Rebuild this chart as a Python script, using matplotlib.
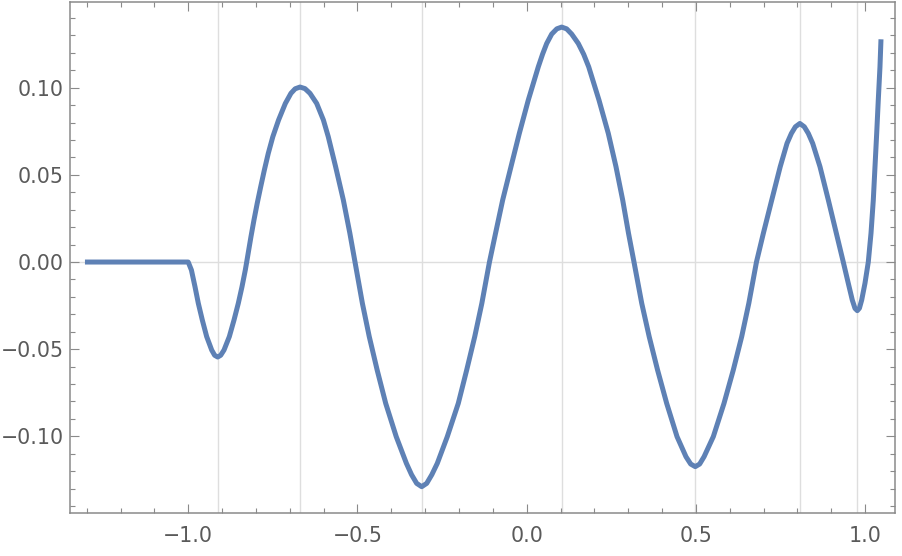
import matplotlib
matplotlib.use("Agg")
import matplotlib.pyplot as plt
from matplotlib.ticker import MultipleLocator, FixedLocator, FixedFormatter

# curve samples
x_vals = [-1.305, -1.000,
          -0.9905, -0.9799, -0.9701, -0.9583, -0.9454, -0.9306, -0.9219, -0.9129,
          -0.9040, -0.8942, -0.8785, -0.8647, -0.8520, -0.8411, -0.8313, -0.8272,
          -0.8146, -0.8057, -0.7961, -0.7858, -0.7750, -0.7635, -0.7500, -0.7330, -0.7130, -0.6965, -0.6840, -0.6697,
          -0.6550, -0.6402, -0.6204, -0.6006, -0.5862, -0.5645, -0.5417, -0.5224, -0.5072,
          -0.4854, -0.4651, -0.4417, -0.4165, -0.3854, -0.3554, -0.3402, -0.3250, -0.3102,
          -0.2954, -0.2802, -0.2641, -0.2346, -0.2021, -0.1773, -0.1535, -0.1325, -0.1100,
          -0.0920, -0.0709, -0.0464, -0.0218, 0.0047, 0.0343, 0.0470, 0.0591, 0.0739, 0.0890, 0.1034,
          0.1180, 0.1329, 0.1524, 0.1684, 0.1832, 0.2136, 0.2411, 0.2638, 0.2836, 0.3008, 0.3170,
          0.3399, 0.3619, 0.3867, 0.4136, 0.4442, 0.4706, 0.4845, 0.4980,
          0.5110, 0.5240, 0.5513, 0.5829, 0.6103, 0.6352, 0.6562, 0.6788,
          0.6992, 0.7240, 0.7490, 0.7691, 0.7820, 0.7938, 0.8070,
          0.8202, 0.8320, 0.8449, 0.8665, 0.8911, 0.9148, 0.9353,
          0.9501, 0.9619, 0.9699, 0.9767,
          0.9830, 0.9897, 0.9994, 1.0092, 1.0172, 1.0240, 1.0290, 1.0340, 1.0387, 1.0437, 1.0467]
y_vals = [0.0, 0.0,
          -0.0046, -0.0142, -0.0237, -0.0333, -0.0428, -0.0505, -0.0535, -0.0545,
          -0.0535, -0.0505, -0.0428, -0.0333, -0.0237, -0.0142, -0.0046, 0.0,
          0.0145, 0.0241, 0.0337, 0.0432, 0.0528, 0.0623, 0.0719, 0.0815, 0.0910, 0.0968, 0.0994, 0.1004,
          0.0995, 0.0968, 0.0910, 0.0815, 0.0719, 0.0547, 0.0356, 0.0165, 0.0,
          -0.0237, -0.0428, -0.0620, -0.0811, -0.1002, -0.1155, -0.1220, -0.1270, -0.1289,
          -0.1270, -0.1220, -0.1155, -0.1002, -0.0811, -0.0620, -0.0428, -0.0237, 0.0,
          0.0165, 0.0356, 0.0547, 0.0738, 0.0929, 0.1120, 0.1193, 0.1254, 0.1308, 0.1338, 0.1348,
          0.1338, 0.1308, 0.1254, 0.1192, 0.1120, 0.0929, 0.0738, 0.0547, 0.0356, 0.0165, 0.0,
          -0.0237, -0.0428, -0.0620, -0.0811, -0.1002, -0.1117, -0.1159, -0.1174,
          -0.1159, -0.1117, -0.1002, -0.0811, -0.0620, -0.0428, -0.0237, 0.0,
          0.0165, 0.0356, 0.0547, 0.0681, 0.0738, 0.0776, 0.0795,
          0.0776, 0.0738, 0.0681, 0.0547, 0.0356, 0.0165, 0.0,
          -0.0122, -0.0218, -0.0266, -0.0279,
          -0.0265, -0.0218, -0.0122, 0.0, 0.0165, 0.0356, 0.0547, 0.0738, 0.0929, 0.1120, 0.1278]

# x positions of the local extrema (vertical grid lines)
extrema_x = [-0.9129, -0.6697, -0.3102, 0.1034, 0.4980, 0.8070, 0.9767]

x_ticks = [-1.0, -0.5, 0.0, 0.5, 1.0]
x_labels = ["\u22121.0", "\u22120.5", "0.0", "0.5", "1.0"]
y_ticks = [-0.10, -0.05, 0.0, 0.05, 0.10]
y_labels = ["\u22120.10", "\u22120.05", "0.00", "0.05", "0.10"]

fig = plt.figure(figsize=(9.02, 5.56), dpi=100)
ax = fig.add_axes([70/902, 1 - 513/556, (895-70)/902, (513-2)/556])

grid_c = "#dedede"
for gx in extrema_x:
    ax.axvline(gx, color=grid_c, lw=1.0, zorder=1)
ax.axhline(0.0, color=grid_c, lw=1.0, zorder=1)

ax.plot(x_vals, y_vals, color="#5E81B5", lw=3.6, solid_capstyle="butt",
        solid_joinstyle="round", zorder=3)

ax.set_xlim(-1.3492, 1.0881)
ax.set_ylim(-0.1440, 0.1492)

ax.xaxis.set_major_locator(FixedLocator(x_ticks))
ax.xaxis.set_major_formatter(FixedFormatter(x_labels))
ax.yaxis.set_major_locator(FixedLocator(y_ticks))
ax.yaxis.set_major_formatter(FixedFormatter(y_labels))
ax.xaxis.set_minor_locator(MultipleLocator(0.1))
ax.yaxis.set_minor_locator(MultipleLocator(0.01))

spine_c = "#8a8a8a"
for s in ax.spines.values():
    s.set_color(spine_c)
    s.set_linewidth(1.1)

ax.tick_params(which="both", direction="in", top=True, right=True, color=spine_c,
               width=0.8, labelcolor="#5a5a5a", labelsize=14.8)
ax.tick_params(which="major", length=6.5)
ax.tick_params(which="minor", length=3.6)
ax.tick_params(axis="x", which="major", pad=9.5)
ax.tick_params(axis="y", which="major", pad=4.5)

fig.savefig("out.png", dpi=100)
